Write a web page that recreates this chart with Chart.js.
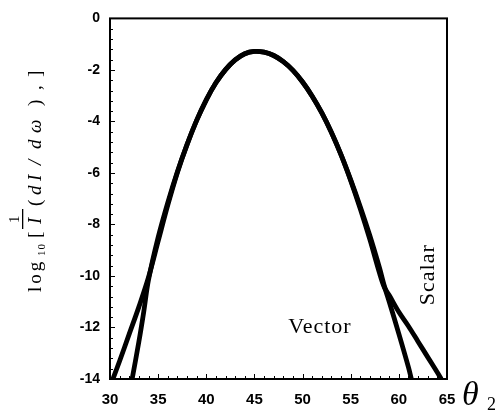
<!DOCTYPE html>
<html>
<head>
<meta charset="utf-8">
<script src="https://cdn.jsdelivr.net/npm/chart.js@4.4.1/dist/chart.umd.min.js"></script>
<style>
  html, body { margin: 0; padding: 0; background: #fff; overflow: hidden; }
  #chartCanvas { display: block; }
</style>
</head>
<body>
<canvas id="chartCanvas" width="502" height="411"></canvas>
<script>
// values
let vectorX = [32.3, 33, 33.5, 34, 35, 36, 37, 38, 39, 40, 41, 42, 43, 44, 45, 46, 47, 48, 49, 50, 51, 52, 53, 54, 55, 56, 57, 58, 58.5, 59, 60, 61, 61.3];
let vectorY = [-14, -12.55, -11.4, -10.15, -8.5, -7.15, -5.95, -4.9, -3.96, -3.16, -2.5, -1.99, -1.61, -1.37, -1.28, -1.31, -1.44, -1.68, -2.02, -2.47, -3.02, -3.67, -4.43, -5.30, -6.27, -7.32, -8.45, -9.7, -10.4, -11.0, -12.25, -13.55, -14];

let scalarX = [30.3, 31, 32, 33, 34, 35, 36, 37, 38, 39, 40, 41, 42, 43, 44, 45, 46, 47, 48, 49, 50, 51, 52, 53, 54, 55, 56, 57, 58, 58.5, 59, 60, 61, 62, 63, 64, 64.4];
let scalarY = [-14, -13.3, -12.25, -11.2, -10.05, -8.65, -7.25, -5.98, -4.9, -3.96, -3.16, -2.5, -1.99, -1.61, -1.37, -1.28, -1.31, -1.44, -1.68, -2.02, -2.47, -3.02, -3.67, -4.43, -5.30, -6.3, -7.4, -8.6, -9.9, -10.45, -10.75, -11.4, -11.95, -12.55, -13.15, -13.75, -14];

let xTicks = [30, 35, 40, 45, 50, 55, 60, 65];
let yTicks = [0, -2, -4, -6, -8, -10, -12, -14];

const toPts = (xs, ys) => xs.map((x, i) => ({ x: x, y: ys[i] }));

// frame + inward tick marks
const frameTicks = {
    id: "frameTicks",
    afterDraw(chart) {
        const c = chart.ctx;
        const a = chart.chartArea;
        const xs = chart.scales.x;
        const ys = chart.scales.y;
        c.save();
        c.strokeStyle = "#000";
        c.lineWidth = 2;
        c.strokeRect(a.left, a.top, a.right - a.left, a.bottom - a.top);
        c.lineWidth = 1;
        c.beginPath();
        for (let v = 30; v <= 65; v += 1) {
            const px = Math.round(xs.getPixelForValue(v)) + 0.5;
            const len = v % 5 === 0 ? 5 : 3;
            c.moveTo(px, a.bottom);
            c.lineTo(px, a.bottom - len);
        }
        for (let k = 0; k <= 35; k++) {
            const v = -k * 0.4;
            const py = Math.round(ys.getPixelForValue(v)) + 0.5;
            const len = k % 5 === 0 ? 5 : 3;
            c.moveTo(a.left, py);
            c.lineTo(a.left + len, py);
        }
        c.stroke();
        c.restore();
    }
};

// axis titles and curve names
const labels = {
    id: "labels",
    afterDraw(chart) {
        const c = chart.ctx;
        const xs = chart.scales.x;
        const ys = chart.scales.y;
        c.save();
        c.fillStyle = "#000";
        c.textBaseline = "alphabetic";

        // y title, rotated
        c.save();
        c.translate(41, 292);
        c.rotate(-Math.PI / 2);
        c.font = '19px "Liberation Serif"';
        c.letterSpacing = "3px";
        c.fillText("log", 0, 0);
        c.font = '11px "Liberation Serif"';
        c.letterSpacing = "1px";
        c.fillText("10", 36, 4);
        c.font = '19px "Liberation Serif"';
        c.letterSpacing = "0px";
        c.fillText("[", 54, 0);
        c.font = '15px "Liberation Serif"';
        c.fillText("1", 69, -22);
        c.fillRect(63, -19, 20, 1.3);
        c.font = 'italic 19px "Liberation Serif"';
        c.fillText("I", 68, 0);
        c.font = '19px "Liberation Serif"';
        c.fillText("(", 86, 0);
        c.font = 'italic 19px "Liberation Serif"';
        c.fillText("d", 97, 0);
        c.fillText("I", 111, 0);
        c.fillText("/", 127, 0);
        c.fillText("d", 143, 0);
        c.fillText("ω", 159, 0);
        c.font = '19px "Liberation Serif"';
        c.fillText(")", 186, 0);
        c.fillText(",", 202, 0);
        c.fillText("]", 215, 0);
        c.restore();

        // x title
        c.font = 'italic 34px "Liberation Serif"';
        c.fillText("θ", 462, 405);
        c.font = '18px "Liberation Serif"';
        c.fillText("2", 487, 410);

        // curve names
        c.font = '22px "Liberation Serif"';
        c.textAlign = "center";
        c.letterSpacing = "1px";
        c.fillText("Vector", xs.getPixelForValue(51.8), ys.getPixelForValue(-12.2));
        c.save();
        c.translate(xs.getPixelForValue(63.6), ys.getPixelForValue(-9.95));
        c.rotate(-Math.PI / 2);
        c.fillText("Scalar", 0, 0);
        c.restore();
        c.restore();
    }
};

const chartCanvas = document.getElementById("chartCanvas");

let chart = new Chart(chartCanvas, {
    type: "scatter",
    data: {
        datasets: [
            {
                label: "Vector",
                data: toPts(vectorX, vectorY),
                showLine: true,
                borderColor: "#000",
                borderWidth: 4.8,
                pointRadius: 0,
                tension: 0.35,
                fill: false
            },
            {
                label: "Scalar",
                data: toPts(scalarX, scalarY),
                showLine: true,
                borderColor: "#000",
                borderWidth: 4.8,
                pointRadius: 0,
                tension: 0.35,
                fill: false
            }
        ]
    },
    options: {
        responsive: false,
        animation: false,
        maintainAspectRatio: false,
        layout: { padding: { left: 0, right: 55, top: 15, bottom: 0 } },
        plugins: {
            legend: { display: false },
            tooltip: { enabled: false }
        },
        scales: {
            x: {
                type: "linear",
                min: 30,
                max: 65,
                afterBuildTicks: s => { s.ticks = xTicks.map(v => ({ value: v })); },
                afterFit: s => { s.height = 32; },
                grid: { display: false, drawTicks: false },
                border: { display: false },
                ticks: {
                    color: "#000",
                    padding: 12,
                    maxRotation: 0,
                    font: { family: "Liberation Sans", size: 15, weight: "bold" }
                }
            },
            y: {
                type: "linear",
                min: -14,
                max: 0,
                afterBuildTicks: s => { s.ticks = yTicks.map(v => ({ value: v })); },
                afterFit: s => { s.width = 110; },
                grid: { display: false, drawTicks: false },
                border: { display: false },
                ticks: {
                    color: "#000",
                    padding: 10,
                    font: { family: "Liberation Sans", size: 14, weight: "bold" }
                }
            }
        }
    },
    plugins: [frameTicks, labels]
});
</script>
</body>
</html>
